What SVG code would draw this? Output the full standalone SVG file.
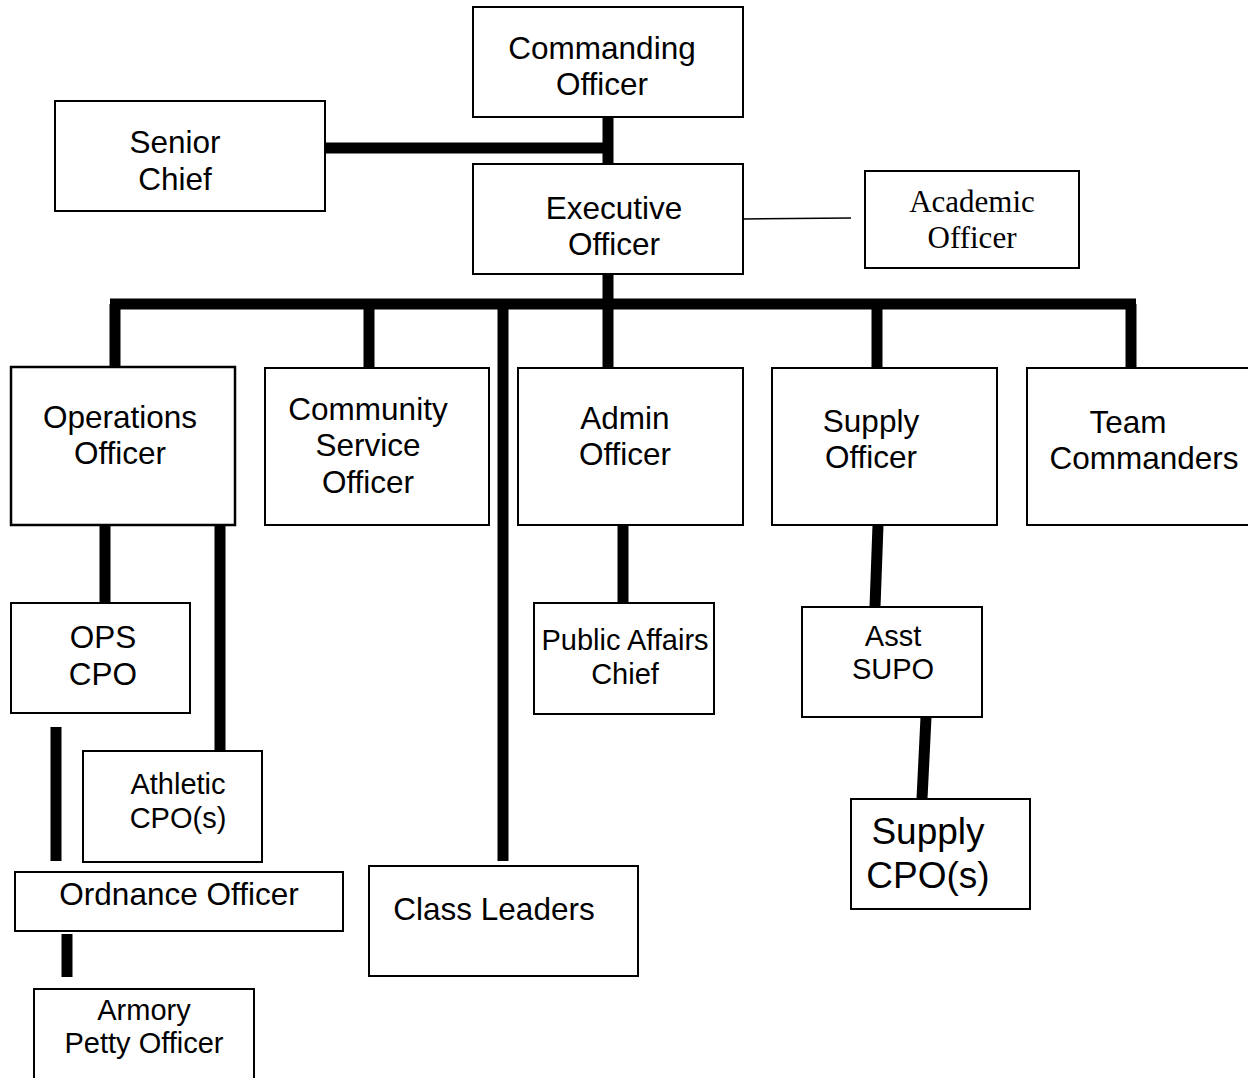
<svg xmlns="http://www.w3.org/2000/svg" width="1248" height="1078" viewBox="0 0 1248 1078">
<style>
.box{fill:#fff;stroke:#000;stroke-width:2}
.t{font-family:"Liberation Sans",Arial,sans-serif;font-size:31.5px;fill:#000;text-anchor:middle}
.s{font-size:29px}
.serif{font-family:"Liberation Serif","Times New Roman",serif;font-size:31px}
.big{font-size:37px}
.thick{stroke:#000;stroke-width:11;fill:none}
.thin{stroke:#000;stroke-width:1.5;fill:none}
</style>
<rect width="1248" height="1078" fill="#fff"/>
<g id="connectors">
<line class="thick" x1="608" y1="117" x2="608" y2="164"/>
<line class="thick" x1="325" y1="148" x2="608" y2="148"/>
<line class="thin" x1="743" y1="219" x2="851" y2="218"/>
<line class="thick" x1="608" y1="274" x2="608" y2="304"/>
<line class="thick" x1="110" y1="304" x2="1136" y2="304"/>
<line class="thick" x1="115" y1="304" x2="115" y2="367"/>
<line class="thick" x1="369" y1="304" x2="369" y2="368"/>
<line class="thick" x1="503" y1="304" x2="503" y2="861"/>
<line class="thick" x1="608" y1="304" x2="608" y2="368"/>
<line class="thick" x1="877" y1="304" x2="877" y2="368"/>
<line class="thick" x1="1131" y1="304" x2="1131" y2="368"/>
<line class="thick" x1="105" y1="525" x2="105" y2="603"/>
<line class="thick" x1="220" y1="525" x2="220" y2="757"/>
<line class="thick" x1="56" y1="727" x2="56" y2="861"/>
<line class="thick" x1="67" y1="934" x2="67" y2="977"/>
<line class="thick" x1="623" y1="525" x2="623" y2="603"/>
<line class="thick" x1="878" y1="525" x2="875" y2="607"/>
<line class="thick" x1="926" y1="717" x2="922" y2="799"/>
</g>
<g id="commanding-officer"><rect class="box" x="473" y="7" width="270" height="110"/><text class="t" x="602" y="59">Commanding</text><text class="t" x="602" y="95">Officer</text></g>
<g id="senior-chief"><rect class="box" x="55" y="101" width="270" height="110"/><text class="t" x="175" y="153">Senior</text><text class="t" x="175" y="190">Chief</text></g>
<g id="executive-officer"><rect class="box" x="473" y="164" width="270" height="110"/><text class="t" x="614" y="219">Executive</text><text class="t" x="614" y="255">Officer</text></g>
<g id="academic-officer"><rect class="box" x="865" y="171" width="214" height="97"/><text class="t serif" x="972" y="212">Academic</text><text class="t serif" x="972" y="248">Officer</text></g>
<g id="operations-officer"><rect class="box" x="11" y="367" width="224" height="158" style="stroke-width:2.5"/><text class="t" x="120" y="428">Operations</text><text class="t" x="120" y="464">Officer</text></g>
<g id="community-service-officer"><rect class="box" x="265" y="368" width="224" height="157"/><text class="t" x="368" y="420">Community</text><text class="t" x="368" y="456">Service</text><text class="t" x="368" y="493">Officer</text></g>
<g id="admin-officer"><rect class="box" x="518" y="368" width="225" height="157"/><text class="t" x="625" y="429">Admin</text><text class="t" x="625" y="465">Officer</text></g>
<g id="supply-officer"><rect class="box" x="772" y="368" width="225" height="157"/><text class="t" x="871" y="432">Supply</text><text class="t" x="871" y="468">Officer</text></g>
<g id="team-commanders"><rect class="box" x="1027" y="368" width="225" height="157"/><text class="t" x="1128" y="433">Team</text><text class="t" x="1144" y="469">Commanders</text></g>
<g id="ops-cpo"><rect class="box" x="11" y="603" width="179" height="110"/><text class="t" x="103" y="648">OPS</text><text class="t" x="103" y="685">CPO</text></g>
<g id="athletic-cpo"><rect class="box" x="83" y="751" width="179" height="111"/><text class="t s" x="178" y="794">Athletic</text><text class="t s" x="178" y="828">CPO(s)</text></g>
<g id="ordnance-officer"><rect class="box" x="15" y="872" width="328" height="59"/><text class="t" x="179" y="905">Ordnance Officer</text></g>
<g id="armory-petty-officer"><rect class="box" x="34" y="989" width="220" height="100"/><text class="t s" x="144" y="1020">Armory</text><text class="t s" x="144" y="1053">Petty Officer</text></g>
<g id="class-leaders"><rect class="box" x="369" y="866" width="269" height="110"/><text class="t" x="494" y="920">Class Leaders</text></g>
<g id="public-affairs-chief"><rect class="box" x="534" y="603" width="180" height="111"/><text class="t s" x="625" y="650">Public Affairs</text><text class="t s" x="625" y="684">Chief</text></g>
<g id="asst-supo"><rect class="box" x="802" y="607" width="180" height="110"/><text class="t s" x="893" y="646">Asst</text><text class="t s" x="893" y="679">SUPO</text></g>
<g id="supply-cpo"><rect class="box" x="851" y="799" width="179" height="110"/><text class="t big" x="928" y="844">Supply</text><text class="t big" x="928" y="888">CPO(s)</text></g>
</svg>
